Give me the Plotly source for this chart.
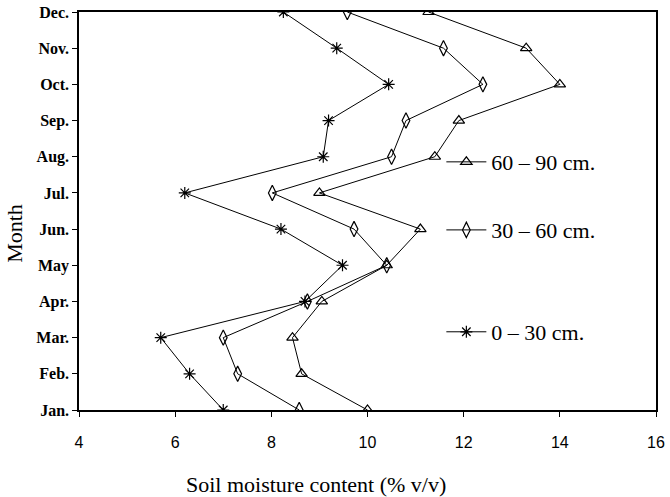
import plotly.graph_objects as go

months = ["Jan.", "Feb.", "Mar.", "Apr.", "May", "Jun.", "Jul.", "Aug.", "Sep.", "Oct.", "Nov.", "Dec."]
depth_0_30 = [7.0, 6.3, 5.7, 8.7, 9.48, 8.2, 6.2, 9.08, 9.19, 10.44, 9.36, 8.25]
depth_30_60 = [8.58, 7.3, 7.0, 8.75, 10.4, 9.72, 8.02, 10.5, 10.8, 12.4, 11.58, 9.58]
depth_60_90 = [10.0, 8.63, 8.44, 9.05, 10.4, 11.1, 9.0, 11.4, 11.9, 14.0, 13.3, 11.27]
series_names = ["60 \u2013 90 cm.", "30 \u2013 60 cm.", "0 \u2013 30 cm."]
x_ticks = [4, 6, 8, 10, 12, 14, 16]
x_title = "Soil moisture content (% v/v)"
y_title = "Month"

serif = "Liberation Serif, Times New Roman, serif"
sans = "Liberation Sans, Arial, sans-serif"

fig = go.Figure()
specs = [
    (depth_60_90, series_names[0], "triangle-up-open", 10, "legend"),
    (depth_30_60, series_names[1], "diamond-tall-open", 11, "legend2"),
    (depth_0_30, series_names[2], "asterisk-open", 10, "legend3"),
]
for vals, name, sym, size, leg in specs:
    fig.add_trace(go.Scatter(
        x=vals, y=months, mode="lines+markers", name=name,
        line=dict(color="black", width=1),
        marker=dict(symbol=sym, size=size, color="black", line=dict(width=1.2, color="black")),
        legend=leg, showlegend=True,
    ))

legfont = dict(family=serif, size=22, color="black")
common = dict(x=0.628, xanchor="left", yanchor="middle", bgcolor="rgba(0,0,0,0)", font=legfont, itemwidth=40)

fig.update_layout(
    width=670, height=497,
    margin=dict(l=79, r=14, t=12, b=87),
    paper_bgcolor="white", plot_bgcolor="white",
    showlegend=True,
    legend=dict(y=0.623, **common),
    legend2=dict(y=0.452, **common),
    legend3=dict(y=0.196, **common),
    xaxis=dict(
        range=[4, 16], tickvals=x_ticks, ticktext=[str(v) for v in x_ticks],
        showgrid=False, zeroline=False, showline=True, linecolor="black", linewidth=1.5,
        mirror=True, ticks="outside", ticklen=5, tickcolor="black", automargin=False,
        ticklabelstandoff=12,
        tickfont=dict(family=sans, size=16, color="black"),
    ),
    yaxis=dict(
        type="category", categoryorder="array", categoryarray=months,
        range=[0, 11],
        showgrid=False, zeroline=False, showline=True, linecolor="black", linewidth=1.5,
        mirror=True, ticks="outside", ticklen=5, tickcolor="black", automargin=False,
        tickfont=dict(family=serif, size=16, color="black", weight="bold"),
    ),
    annotations=[
        dict(text=x_title, xref="paper", yref="paper", x=0.41, y=-0.188,
             xanchor="center", yanchor="middle", showarrow=False,
             font=dict(family=serif, size=22, color="black")),
        dict(text=y_title, xref="paper", yref="paper", x=-0.111, y=0.445,
             xanchor="center", yanchor="middle", showarrow=False, textangle=-90,
             font=dict(family=serif, size=22, color="black")),
    ],
)

fig.write_html("out.html", config={"displayModeBar": False},
               post_script="document.body.style.margin='0';")
